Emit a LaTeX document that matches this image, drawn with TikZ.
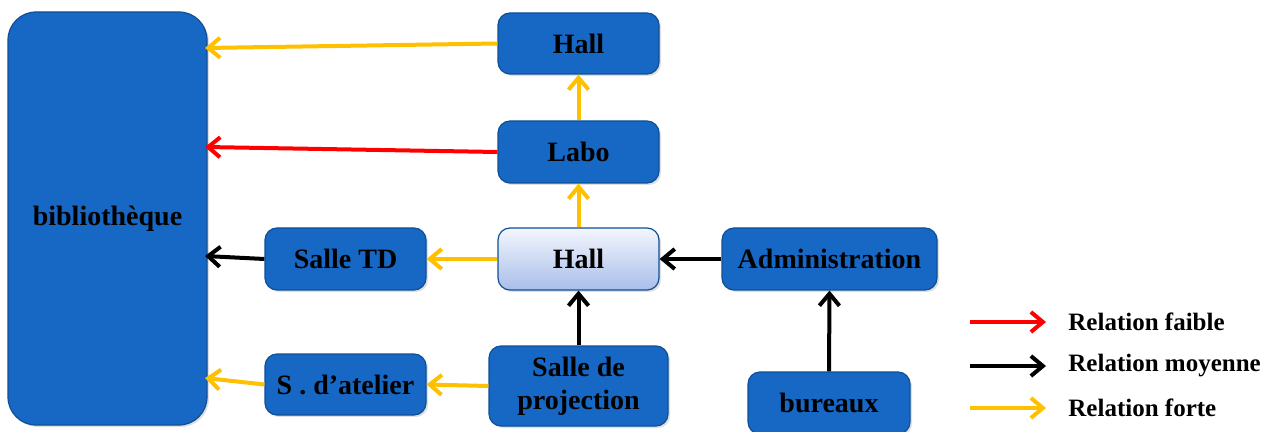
\documentclass[tikz,border=0pt]{standalone}
\usepackage{fontspec}
\setmainfont{Liberation Serif}
\usetikzlibrary{arrows.meta,shadows}

\definecolor{boxblue}{HTML}{1668C4}
\definecolor{boxline}{HTML}{0E4F96}
\definecolor{fortecol}{HTML}{FFC000}
\definecolor{hallTop}{HTML}{F3F6FD}
\definecolor{hallBot}{HTML}{A9BEEA}

\begin{document}
\begin{tikzpicture}[x=0.5pt, y=-0.5pt,
    font=\fontsize{14}{16.5}\selectfont\bfseries,
    piece/.style={draw=boxline, line width=0.6pt, fill=boxblue, rounded corners=6pt,
        inner sep=0pt, align=center, drop shadow={opacity=0.25, shadow xshift=1pt, shadow yshift=-1pt}},
    lien/.style={line width=2pt, -{Straight Barb[length=6pt, width=10pt, line width=2pt]}},
    faible/.style={lien, red},
    moyenne/.style={lien, black},
    forte/.style={lien, fortecol}]
        \useasboundingbox (0, 0) rectangle (1277, 432);

        % bibliotheque a gauche
        \node[piece, rounded corners=14pt, minimum width=99.5pt, minimum height=206.5pt] (biblio) at (107.5, 218.5) {biblioth\`eque};

        % colonne du milieu
        \node[piece, minimum width=80.5pt, minimum height=30.5pt] (hallH) at (578.5, 43.5) {Hall};
        \node[piece, minimum width=80.5pt, minimum height=31pt] (labo) at (578.5, 152) {Labo};
        \node[piece, fill=none, top color=hallTop, bottom color=hallBot, minimum width=80.5pt, minimum height=31pt] (hallC) at (578.5, 259) {Hall};
        \node[piece, minimum width=89.5pt, minimum height=40pt] (projection) at (578.5, 386) {Salle de\\projection};

        % cote gauche et droit
        \node[piece, minimum width=80.5pt, minimum height=31pt] (salleTD) at (345.5, 259) {Salle TD};
        \node[piece, minimum width=80.5pt, minimum height=30.5pt] (atelier) at (345.5, 384.5) {S . d'atelier};
        \node[piece, minimum width=107.5pt, minimum height=31pt] (admin) at (829.5, 259) {Administration};
        \node[piece, minimum width=81pt, minimum height=31pt] (bureaux) at (829, 403) {bureaux};

        % points d'arrivee sur la bibliotheque
        \coordinate (b1) at (205, 48);
        \coordinate (b2) at (205, 147);
        \coordinate (b3) at (205, 256);
        \coordinate (b4) at (205, 378);

        \draw[forte] (hallH.west) -- (b1);
        \draw[faible] (labo.west) -- (b2);
        \draw[moyenne] (salleTD.west) -- (b3);
        \draw[forte] (atelier.west) -- (b4);

        \draw[forte] (labo.north) -- (hallH.south);
        \draw[forte] (hallC.north) -- (labo.south);
        \draw[forte] (hallC.west) -- (salleTD.east);
        \draw[moyenne] (admin.west) -- (hallC.east);
        \draw[moyenne] (projection.north) -- (hallC.south);
        \draw[forte] (projection.west) -- (atelier.east);
        \draw[moyenne] (bureaux.north) -- (admin.south);

        % legende
        \coordinate (l1a) at (970, 322);
        \coordinate (l1b) at (1046, 322);
        \coordinate (l2a) at (970, 366);
        \coordinate (l2b) at (1046, 366);
        \coordinate (l3a) at (970, 408);
        \coordinate (l3b) at (1046, 408);
        \draw[faible] (l1a) -- (l1b);
        \draw[moyenne] (l2a) -- (l2b);
        \draw[forte] (l3a) -- (l3b);
        \node[anchor=west, inner sep=0pt, font=\fontsize{12.5}{14}\selectfont\bfseries] (leg1) at (1068, 322) {Relation faible};
        \node[anchor=west, inner sep=0pt, font=\fontsize{12.5}{14}\selectfont\bfseries] (leg2) at (1068, 366) {Relation moyenne};
        \node[anchor=west, inner sep=0pt, font=\fontsize{12.5}{14}\selectfont\bfseries] (leg3) at (1068, 408) {Relation forte};
    \end{tikzpicture}
\end{document}
